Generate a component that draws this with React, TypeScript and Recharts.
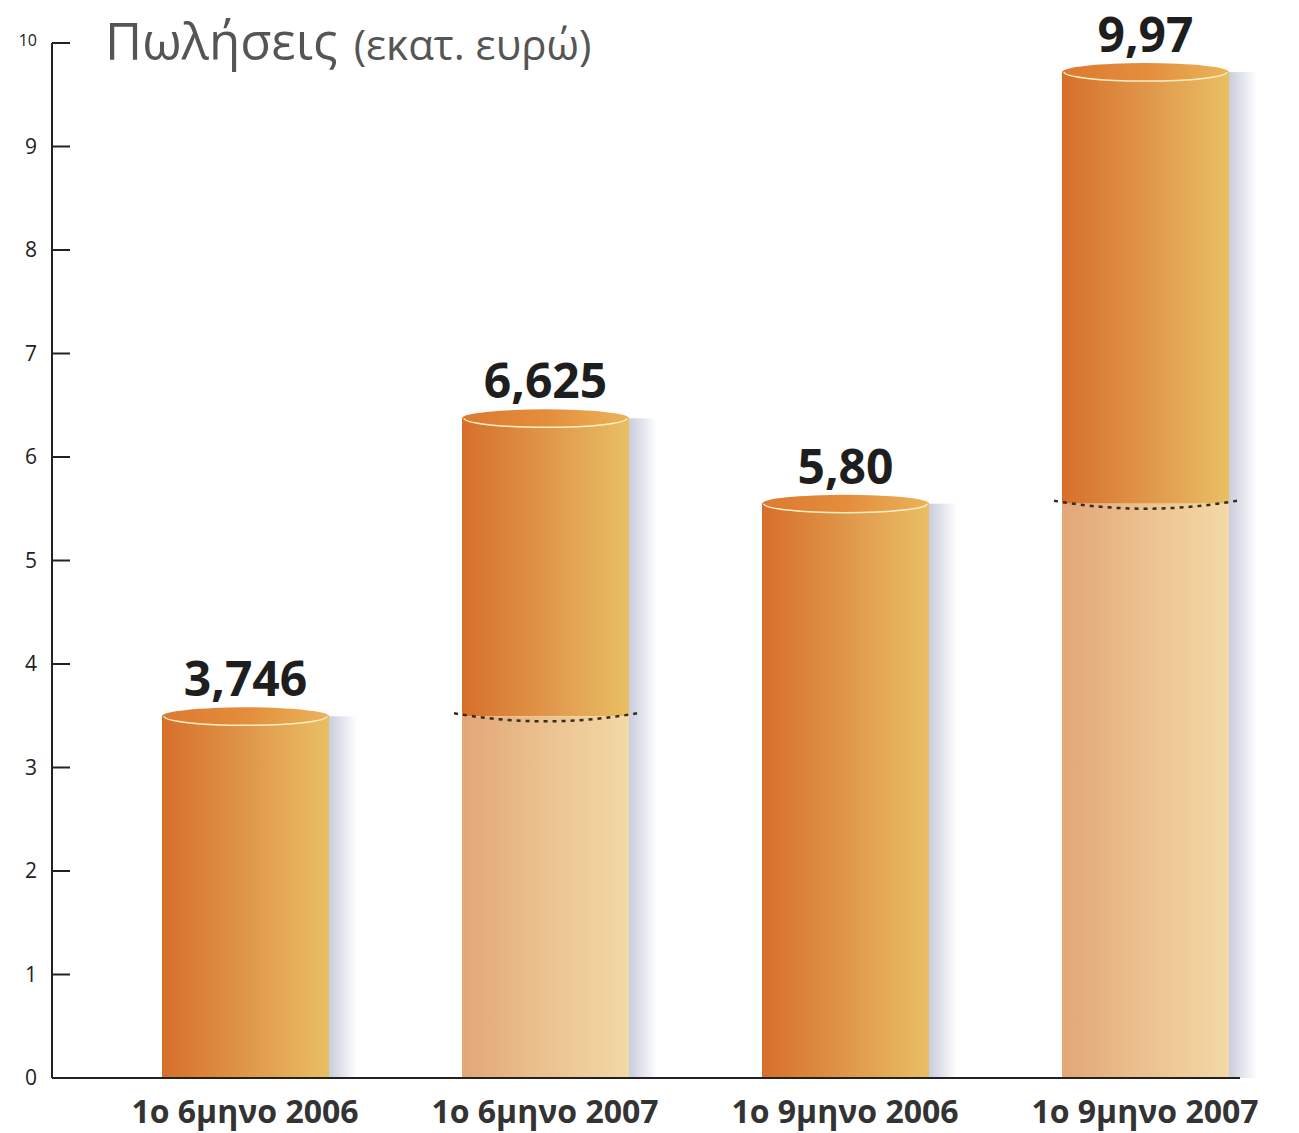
import React from 'react';
import { BarChart, Bar, XAxis, YAxis, LabelList } from 'recharts';

const categories = ['1ο 6μηνο 2006', '1ο 6μηνο 2007', '1ο 9μηνο 2006', '1ο 9μηνο 2007'];
const sales = [3.746, 6.625, 5.8, 9.97];
const previousYear: (number | null)[] = [null, 3.746, null, 5.8];
const valueLabels = ['3,746', '6,625', '5,80', '9,97'];
const yTicks = [0, 1, 2, 3, 4, 5, 6, 7, 8, 9, 10];

const data = categories.map((name, i) => ({
    name,
    sales: sales[i],
    previous: previousYear[i],
    label: valueLabels[i],
}));

const FONT = '"Open Sans", "Noto Sans", sans-serif';
// the drawn cylinder sits a little below its value, as in the original artwork
const SINK = 26;

const Cylinder = (props: any) => {
    const { x, y, width, height, payload } = props;
    const rx = width / 2;
    const ry = 9;
    const bottom = y + height;
    const top = y + SINK;
    const cx = x + rx;
    const split =
        payload.previous != null
            ? bottom - height * (payload.previous / payload.sales) + SINK
            : null;

    return (
        <g>
            <rect x={x + width} y={top} width={28} height={bottom - top} fill="url(#shadow)" />
            {split != null ? (
                <>
                    <rect x={x} y={top} width={width} height={split - top} fill="url(#orange)" />
                    <rect x={x} y={split} width={width} height={bottom - split} fill="url(#pale)" />
                    <path
                        d={`M${x - 8},${split - 3} Q${cx},${split + 13} ${x + width + 8},${split - 3}`}
                        stroke="#3b2a1c"
                        strokeWidth={2.5}
                        strokeDasharray="4 5"
                        fill="none"
                    />
                </>
            ) : (
                <rect x={x} y={top} width={width} height={bottom - top} fill="url(#orange)" />
            )}
            <ellipse cx={cx} cy={top} rx={rx} ry={ry} fill="url(#topFill)" />
            <path
                d={`M${x + 2},${top} A${rx - 2},${ry} 0 0 0 ${x + width - 2},${top}`}
                stroke="#fff0c4"
                strokeWidth={1.5}
                fill="none"
            />
        </g>
    );
};

const YTick = (props: any) => {
    const { x, y, payload } = props;
    const top = payload.value === 10;
    return (
        <g>
            <line x1={x} y1={y} x2={x + 18} y2={y} stroke="#222" strokeWidth={2} />
            <text
                x={x - 15}
                y={y + (top ? 3 : 7)}
                textAnchor="end"
                fontSize={top ? 16 : 21}
                fill="#222"
                fontFamily={FONT}
            >
                {payload.value}
            </text>
        </g>
    );
};

const XTick = (props: any) => {
    const { x, y, payload } = props;
    return (
        <text
            x={x}
            y={y + 45}
            textAnchor="middle"
            fontSize={32}
            fontWeight={700}
            fill="#333"
            fontFamily={FONT}
        >
            {payload.value}
        </text>
    );
};

const ValueLabel = (props: any) => {
    const { x, y, width, value } = props;
    return (
        <text
            x={x + width / 2}
            y={y + 6}
            textAnchor="middle"
            fontSize={48}
            fontWeight={700}
            fill="#1e1e1e"
            fontFamily={FONT}
        >
            {value}
        </text>
    );
};

export default function App() {
    return (
        <div style={{ position: 'absolute', left: 0, top: 0, width: 1299, height: 1133, background: '#fff', overflow: 'hidden' }}>
            <div
                style={{
                    position: 'absolute',
                    left: 105,
                    top: 5,
                    fontFamily: FONT,
                    color: '#555',
                    whiteSpace: 'nowrap',
                }}
            >
                <span style={{ fontSize: 51 }}>Πωλήσεις</span>
                <span style={{ fontSize: 42, marginLeft: 16 }}>(εκατ. ευρώ)</span>
            </div>
            <BarChart
                width={1299}
                height={1133}
                data={data}
                margin={{ top: 43, right: 59, left: 0, bottom: 5 }}
                barSize={167}
            >
                <defs>
                    <linearGradient id="orange" x1="0" y1="0" x2="1" y2="0">
                        <stop offset="0%" stopColor="#d76f2b" />
                        <stop offset="50%" stopColor="#e0964a" />
                        <stop offset="100%" stopColor="#e9bf63" />
                    </linearGradient>
                    <linearGradient id="pale" x1="0" y1="0" x2="1" y2="0">
                        <stop offset="0%" stopColor="#e2a677" />
                        <stop offset="50%" stopColor="#ebc28f" />
                        <stop offset="100%" stopColor="#f3d9a6" />
                    </linearGradient>
                    <linearGradient id="topFill" x1="0" y1="0" x2="1" y2="0">
                        <stop offset="0%" stopColor="#dc7a31" />
                        <stop offset="50%" stopColor="#e48d3c" />
                        <stop offset="100%" stopColor="#ebb45a" />
                    </linearGradient>
                    <linearGradient id="shadow" x1="0" y1="0" x2="1" y2="0">
                        <stop offset="0%" stopColor="#c9cddd" />
                        <stop offset="100%" stopColor="#ffffff" />
                    </linearGradient>
                </defs>
                <XAxis
                    dataKey="name"
                    height={50}
                    axisLine={{ stroke: '#222', strokeWidth: 2 }}
                    tickLine={false}
                    tickSize={0}
                    tickMargin={0}
                    tick={<XTick />}
                    padding={{ left: 43, right: -55 }}
                    interval={0}
                />
                <YAxis
                    width={52}
                    domain={[0, 10]}
                    ticks={yTicks}
                    axisLine={{ stroke: '#222', strokeWidth: 2 }}
                    tickLine={false}
                    tickSize={0}
                    tickMargin={0}
                    tick={<YTick />}
                    interval={0}
                />
                <Bar dataKey="sales" shape={<Cylinder />} isAnimationActive={false}>
                    <LabelList dataKey="label" content={<ValueLabel />} />
                </Bar>
            </BarChart>
        </div>
    );
}
